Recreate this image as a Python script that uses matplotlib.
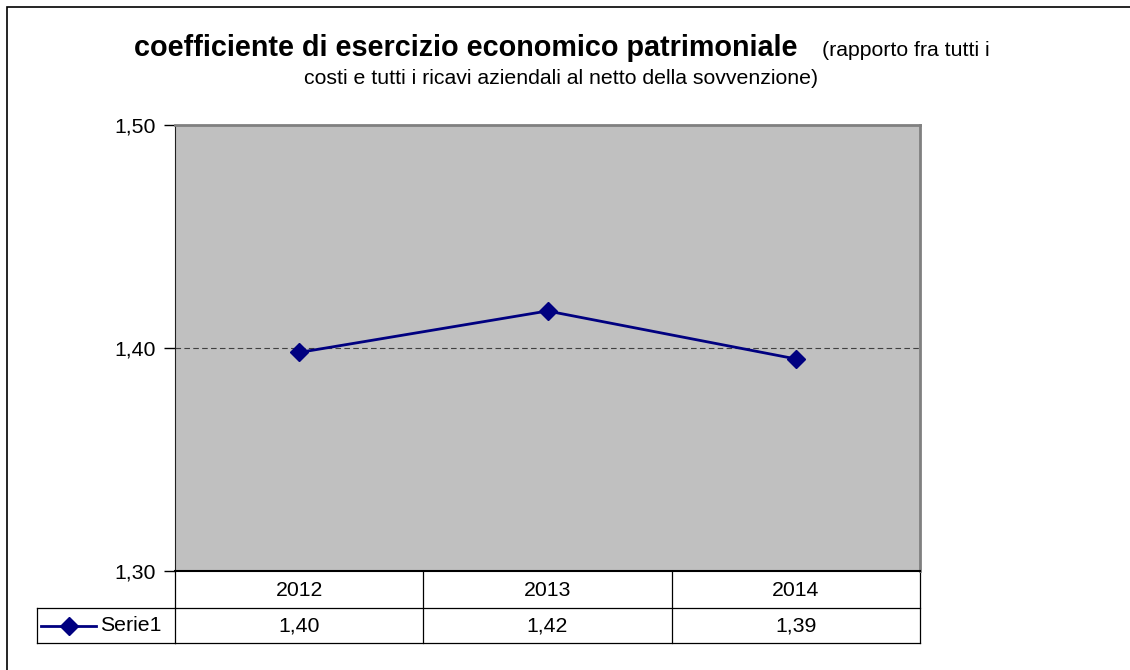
import matplotlib
matplotlib.use("Agg")
import matplotlib.pyplot as plt
from matplotlib.lines import Line2D
from matplotlib.patches import Rectangle
import matplotlib.transforms as mtransforms

plt.rcParams['font.family'] = ['Liberation Sans', 'DejaVu Sans']

years = ["2012", "2013", "2014"]
values = [1.398, 1.4166, 1.3951]
value_labels = ["1,40", "1,42", "1,39"]
series_name = "Serie1"
yticks = [1.30, 1.40, 1.50]
ytick_labels = ["1,30", "1,40", "1,50"]
title_bold = "coefficiente di esercizio economico patrimoniale"
title_reg1 = "(rapporto fra tutti i"
title_reg2 = "costi e tutti i ricavi aziendali al netto della sovvenzione)"

W, H = 1130, 670
FS = 15.3
fig = plt.figure(figsize=(W / 100, H / 100), dpi=100)

# outer border
fig.patches.append(Rectangle((7 / W, -0.01), 1.02, (H - 7) / H + 0.01, transform=fig.transFigure,
                             fill=False, edgecolor='black', linewidth=1.2))

ax = fig.add_axes([175 / W, (H - 571) / H, 745 / W, 446 / H])
ax.set_facecolor('#c0c0c0')
x = list(range(len(years)))
ax.plot(x, values, color='#000080', linewidth=2, marker='D', markersize=9.5, zorder=3)
ax.set_xlim(-0.5, len(years) - 0.5)
ax.set_ylim(1.30, 1.50)
ax.set_yticks(yticks)
ax.set_yticklabels(ytick_labels, fontsize=FS)
ax.tick_params(axis='y', length=8, width=1, pad=6, colors='black')
ax.set_xticks([])
ax.axhline(1.40, color='#404040', linestyle=(0, (5, 3)), linewidth=0.8, zorder=1)
for s in ['top', 'right']:
    ax.spines[s].set_color('#808080')
    ax.spines[s].set_linewidth(2)
ax.spines['left'].set_color('#202020')
ax.spines['bottom'].set_color('black')
ax.spines['bottom'].set_linewidth(1.5)

# data table below the axes
trans = mtransforms.blended_transform_factory(ax.transData, ax.transAxes)
h1 = 37 / 446
h2 = 35 / 446
lc = 'black'
lw = 0.9
xmin, xmax = -0.5, len(years) - 0.5
ax.add_line(Line2D([xmin, xmax], [-h1, -h1], transform=trans, color=lc, lw=lw, clip_on=False))
ax.add_line(Line2D([xmin, xmax], [-h1 - h2, -h1 - h2], transform=trans, color=lc, lw=lw, clip_on=False))
for b in [xmin + i for i in range(len(years) + 1)]:
    ax.add_line(Line2D([b, b], [0, -h1 - h2], transform=trans, color=lc, lw=lw, clip_on=False))
for i, (yr, vl) in enumerate(zip(years, value_labels)):
    ax.text(i, -h1 / 2 - 0.002, yr, transform=trans, ha='center', va='center', fontsize=FS)
    ax.text(i, -h1 - h2 / 2, vl, transform=trans, ha='center', va='center', fontsize=FS)

# legend cell
lx0 = (37 - 175) / 745
ax.add_line(Line2D([lx0, 0], [-h1, -h1], transform=ax.transAxes, color=lc, lw=lw, clip_on=False))
ax.add_line(Line2D([lx0, 0], [-h1 - h2, -h1 - h2], transform=ax.transAxes, color=lc, lw=lw, clip_on=False))
ax.add_line(Line2D([lx0, lx0], [-h1, -h1 - h2], transform=ax.transAxes, color=lc, lw=lw, clip_on=False))
ym = -h1 - h2 / 2
ax.add_line(Line2D([(41 - 175) / 745, (96 - 175) / 745], [ym, ym], transform=ax.transAxes,
                   color='#000080', lw=2, clip_on=False))
ax.add_line(Line2D([(69 - 175) / 745], [ym], transform=ax.transAxes, color='#000080',
                   marker='D', markersize=9.5, clip_on=False))
ax.text((100 - 175) / 745, ym, series_name, transform=ax.transAxes, ha='left', va='center', fontsize=FS)

# title
fig.text(797 / W, 1 - 56 / H, title_bold, ha='right', va='baseline', fontsize=20.7, fontweight='bold')
fig.text(822 / W, 1 - 56 / H, title_reg1, ha='left', va='baseline', fontsize=15.3)
fig.text(561 / W, 1 - 84 / H, title_reg2, ha='center', va='baseline', fontsize=15.3)

fig.savefig('out.png', dpi=100)
